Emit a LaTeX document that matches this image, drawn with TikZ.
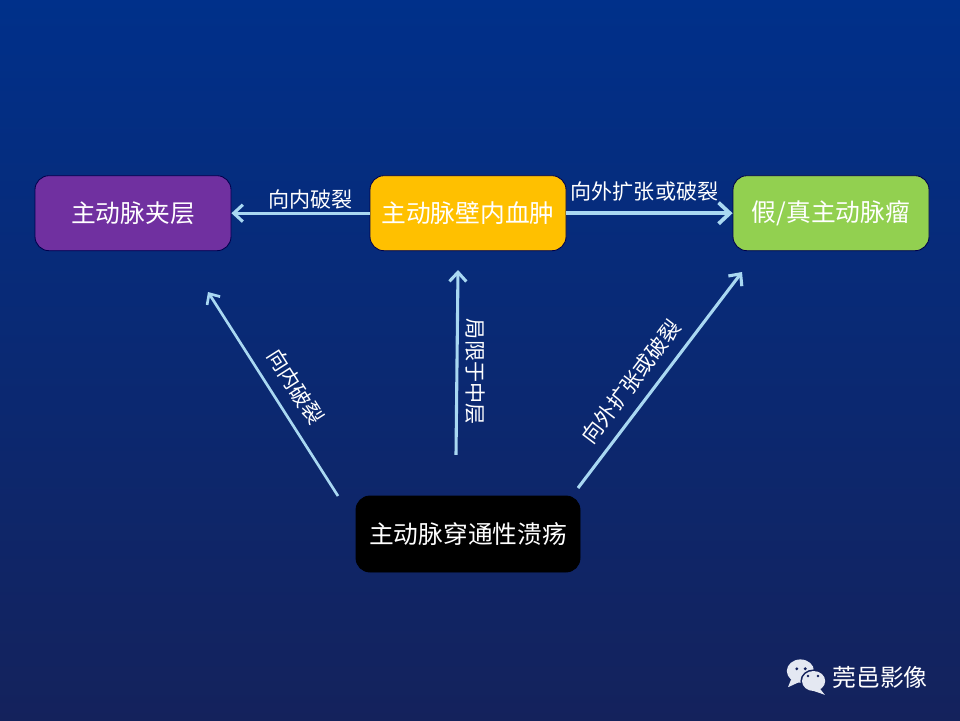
\documentclass[tikz,border=0pt]{standalone}
\usepackage{fontspec}
\setmainfont{Noto Sans CJK SC}
\usepackage{xcolor}
\usetikzlibrary{arrows.meta}

\definecolor{bgtop}{HTML}{00308A}
\definecolor{bgmid}{HTML}{0A2A78}
\definecolor{bgbot}{HTML}{14225C}
\definecolor{pathline}{HTML}{A9D8F2}
\definecolor{purplebox}{HTML}{7030A0}
\definecolor{yellowbox}{HTML}{FFC000}
\definecolor{greenbox}{HTML}{92D050}
\definecolor{chatwhite}{HTML}{E4E8F2}

\tikzset{
  lesion/.style={draw=black!70!blue, line width=0.6pt, rounded corners=0.35cm, minimum width=4.9cm, minimum height=1.875cm, inner sep=0pt, text=white, font=\fontsize{17.6}{20}\selectfont},
  thin arrow/.style={draw=pathline, line width=1.9pt, -{Straight Barb[length=6pt, width=11pt, line width=1.9pt]}},
  path arrow/.style={draw=pathline, line width=2.2pt, -{Straight Barb[length=6.5pt, width=12pt, line width=2.2pt]}},
  thick arrow/.style={draw=pathline, line width=2.7pt, -{Straight Barb[length=8pt, width=15pt, line width=2.7pt]}},
  path label/.style={text=white, inner sep=2pt, font=\fontsize{15}{18}\selectfont}
}

\begin{document}
\begin{tikzpicture}

    \shade [top color=bgtop, middle color=bgmid, bottom color=bgbot] (0, 0) rectangle (24, 18);
    \useasboundingbox (0, 0) rectangle (24, 18);

    \node [lesion, fill=purplebox] (dissection) at (3.325, 12.67) {主动脉夹层};
    \node [lesion, fill=yellowbox] (hematoma) at (11.7, 12.67) {主动脉壁内血肿};
    \node [lesion, fill=greenbox] (aneurysm) at (20.775, 12.67) {假/真主动脉瘤};
    \node [lesion, fill=black, draw=black, minimum width=5.6cm, minimum height=1.9cm] (ulcer) at (11.7, 4.65) {主动脉穿通性溃疡};

    \coordinate (a1) at (8.45, 5.6);
    \coordinate (a2) at (5.2, 10.7);
    \coordinate (b1) at (11.4, 6.63);
    \coordinate (b2) at (11.45, 11.25);
    \coordinate (c1) at (14.45, 5.8);
    \coordinate (c2) at (18.55, 11.2);

    \draw [path arrow] (hematoma.west) to node [path label, above, pos=0.43] {向内破裂} (dissection.east);
    \draw [thick arrow] (hematoma.east) to node [path label, above, pos=0.47, yshift=5pt] {向外扩张或破裂} (aneurysm.west);
    \draw [thin arrow] (a1) to node [path label, above, sloped, pos=0.475, yshift=6.5pt] {向内破裂} (a2);
    \draw [path arrow] (b1) to node [path label, rotate=-90, anchor=south, pos=0.45, inner sep=5pt] {局限于中层} (b2);
    \draw [path arrow] (c1) to node [path label, above, sloped, pos=0.43, yshift=5.5pt] {向外扩张或破裂} (c2);

    % watermark
    \fill [chatwhite] (19.78, 1.02) -- (19.7, 0.82) -- (20.05, 0.98) -- cycle;
    \fill [chatwhite] (20.01, 1.225) ellipse (0.34 and 0.29);
    \fill [bgbot] (20.34, 0.975) ellipse (0.33 and 0.29);
    \fill [chatwhite] (20.5, 0.78) -- (20.62, 0.63) -- (20.3, 0.74) -- cycle;
    \fill [chatwhite] (20.34, 0.975) ellipse (0.29 and 0.25);
    \fill [bgbot] (19.92, 1.28) circle (0.04) (20.13, 1.28) circle (0.04) (20.2, 1.1) circle (0.035) (20.45, 1.1) circle (0.035);
    \node [text=white, inner sep=0pt, font=\fontsize{17}{20}\selectfont] (mark) at (22.0, 1.075) {莞邑影像};

\end{tikzpicture}
\end{document}
